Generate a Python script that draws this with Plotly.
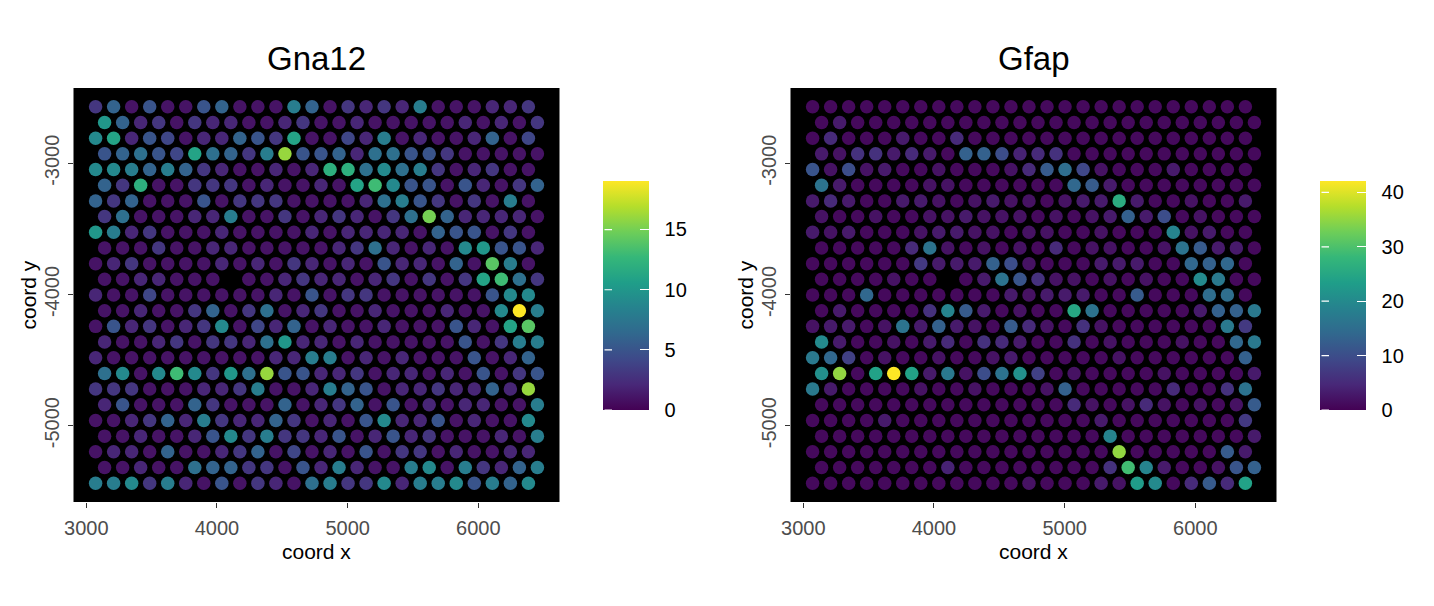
import plotly.graph_objects as go

# page body has an 8px default margin; figure is sized/positioned to compensate
OFF = 8
W, H = 1434 - 2 * OFF, 606 - 2 * OFF

# spot grid (hexagonal array): origin and pitch in coordinate units
x_origin = 3071
x_pitch = 138
y_origin = -2570
y_pitch = 119.5

# expression values, one list per array row (top row first); None = no spot
gna12_rows = [
    [3,6,1,5,1,1,5,6,1,1,1,8,6,1,3,2,3,2,8,1,1,1,2,2,3],
    [10,6,2,3,1,3,2,2,1,1,2,3,1,1,2,1,1,1,1,1,2,1,2,1,3],
    [9,11,2,5,4,1,2,2,6,5,3,11,1,1,4,2,8,1,2,1,1,2,6,1,4],
    [5,6,7,5,4,11,7,6,3,8,16,5,5,6,2,7,7,5,5,3,1,1,1,1,1],
    [9,9,8,6,8,6,3,2,1,1,2,1,2,12,12,7,9,7,8,3,1,2,3,1,1],
    [6,3,12,1,1,3,3,3,1,2,1,1,2,1,11,13,9,5,5,1,5,2,1,3,6],
    [6,3,6,1,1,1,5,1,3,3,3,1,1,1,1,2,7,8,5,3,1,3,1,8,1],
    [3,7,1,1,1,2,2,8,1,1,3,1,2,3,2,1,3,7,15,6,2,2,2,2,1],
    [10,8,2,3,1,1,1,2,1,1,1,1,2,1,2,2,2,2,1,6,5,5,1,3,1],
    [1,1,1,3,1,1,2,2,1,1,1,1,1,2,3,7,2,1,2,1,9,10,5,5,2],
    [1,2,3,1,1,1,1,2,1,2,1,3,2,1,2,1,5,2,2,1,6,1,14,8,1],
    [1,1,2,2,1,1,1,None,1,1,2,3,2,2,1,2,3,1,3,1,3,11,13,7,3],
    [2,1,1,4,1,1,1,1,1,1,2,1,5,1,3,3,1,1,1,1,1,1,5,9,9],
    [1,1,2,1,1,3,6,1,3,7,1,2,3,1,1,2,1,1,1,2,1,1,9,19,8],
    [1,5,2,3,1,2,3,9,1,4,2,6,1,2,1,1,2,1,1,1,5,2,1,11,14],
    [2,1,1,2,3,1,3,3,2,7,10,2,2,1,2,1,1,1,1,1,5,1,3,8,8],
    [2,1,1,1,1,1,1,1,1,1,2,2,8,8,1,2,1,2,1,1,1,5,1,2,6],
    [7,9,1,9,13,9,3,10,7,16,5,5,2,2,3,1,2,2,1,2,1,5,1,3,5],
    [3,3,3,1,1,1,2,2,3,8,1,1,2,8,6,5,1,2,2,3,2,2,6,2,16],
    [2,5,1,1,1,6,3,1,1,1,6,1,2,3,6,1,5,1,2,1,2,2,1,1,8],
    [1,1,2,3,6,2,8,3,2,2,6,3,1,2,1,5,9,2,2,5,1,2,1,1,9],
    [1,1,2,1,1,2,5,9,3,8,3,3,2,5,1,2,5,2,3,1,1,1,2,1,8],
    [1,2,2,1,6,1,1,2,3,6,1,4,1,2,1,5,1,3,3,1,2,1,1,2,2],
    [1,1,2,1,1,7,6,6,3,3,1,5,2,8,2,1,1,8,9,1,8,3,2,6,8],
    [8,8,9,3,8,2,1,5,1,3,2,1,7,8,3,3,9,2,8,8,9,5,8,6,9],
]

gfap_rows = [
    [1,1,1,1,1,1,1,1,1,1,1,1,1,1,1,1,1,1,1,1,1,1,1,1,1],
    [1,3,1,1,1,1,1,1,1,1,1,1,1,1,1,1,1,1,1,1,1,1,1,1,1],
    [1,5,1,1,1,3,1,1,5,1,1,1,1,1,1,1,1,1,1,1,1,1,1,1,1],
    [3,2,6,6,3,5,3,1,13,13,10,4,5,6,1,1,1,1,1,1,1,1,1,1,1],
    [11,2,10,2,3,1,1,2,1,1,1,2,5,12,15,9,2,1,1,1,3,1,1,1,1],
    [16,3,1,1,1,1,2,2,1,1,1,1,1,1,14,12,3,1,1,1,1,1,1,1,1],
    [3,5,3,1,1,3,3,2,1,2,3,2,2,1,2,3,3,26,3,1,1,2,1,1,3],
    [2,1,1,2,1,1,2,2,3,2,2,2,1,2,1,2,3,13,3,10,1,2,1,1,1],
    [3,2,3,1,1,1,2,3,3,2,2,1,2,2,1,1,2,1,1,1,19,2,3,1,1],
    [1,1,1,1,1,5,16,2,1,2,1,2,1,5,1,2,2,1,1,2,16,12,3,3,1],
    [1,1,1,1,1,1,7,3,3,3,13,10,2,1,1,1,3,3,3,1,1,14,13,14,1],
    [1,1,1,1,2,1,1,None,1,3,16,11,6,2,2,1,2,1,2,1,1,20,17,1,1],
    [1,1,1,14,1,1,1,1,1,1,1,3,2,3,3,3,1,1,12,1,1,1,15,15,1],
    [1,3,1,1,1,1,6,19,12,3,1,2,1,1,25,16,1,1,1,1,1,3,13,13,17],
    [2,3,3,1,2,16,3,13,3,2,1,12,5,2,1,6,2,1,1,1,1,1,1,17,7],
    [20,3,1,1,2,1,3,5,1,6,5,3,1,1,6,1,2,1,1,1,2,1,1,14,17],
    [17,14,8,1,2,1,1,2,1,1,2,3,1,1,1,1,1,2,1,1,1,1,1,1,13],
    [21,35,1,24,42,24,3,17,2,10,16,21,8,1,2,1,1,1,1,2,1,1,1,1,3],
    [17,3,1,1,1,1,2,1,1,2,1,1,1,2,13,1,1,1,1,1,5,1,1,6,16],
    [1,1,1,1,1,1,1,1,1,1,1,1,1,1,5,2,1,2,5,2,1,2,1,2,12],
    [1,1,1,1,3,1,1,1,1,1,1,1,1,1,1,1,3,1,1,1,1,1,1,1,7],
    [1,1,1,1,1,1,1,1,1,1,1,1,1,1,1,1,19,1,1,1,1,1,1,1,3],
    [1,1,1,1,1,1,1,1,1,1,1,1,1,1,1,1,1,35,1,1,1,1,1,12,3],
    [1,1,1,1,1,1,1,4,1,1,1,1,1,1,1,1,6,29,19,3,1,1,2,11,13],
    [1,1,1,1,1,1,1,1,1,1,1,1,2,1,1,1,3,2,23,20,1,5,12,5,24],
]

gene_names = ["Gna12", "Gfap"]
x_ticks = [3000, 4000, 5000, 6000]
y_ticks = [-3000, -4000, -5000]
cbar_ticks = [[0, 5, 10, 15], [0, 10, 20, 30, 40]]


def spots(rows):
    xs, ys, vs = [], [], []
    for r, row in enumerate(rows):
        for c, v in enumerate(row):
            if v is None:
                continue
            xs.append(x_origin + c * x_pitch + (x_pitch / 2 if r % 2 else 0))
            ys.append(y_origin - r * y_pitch)
            vs.append(v)
    return xs, ys, vs


def px(v):  # reference page pixel -> figure pixel
    return v - OFF


FONT = "Liberation Sans, Arial, Helvetica, sans-serif"
NBSP = "\u00a0"
panels_px = [(73.5, 559.5), (790.5, 1276.5)]
top_px, bot_px = 88, 502
cbar_left_px = [603, 1320]
cbar_w = 46
cbar_top, cbar_bot = 181.5, 410
cb_tick_len = 9

fig = go.Figure()
layout = dict(
    width=W, height=H,
    margin=dict(l=0, r=0, t=0, b=0),
    paper_bgcolor="white", plot_bgcolor="black",
    font=dict(family=FONT, size=20, color="black"),
    showlegend=False,
    annotations=[],
)

for i, rows in enumerate([gna12_rows, gfap_rows]):
    xs, ys, vs = spots(rows)
    xmin, xmax = min(xs), max(xs)
    ymin, ymax = min(ys), max(ys)
    xpad = 0.05 * (xmax - xmin)
    ypad = 0.05 * (ymax - ymin)
    vmax = max(vs)
    sfx = "" if i == 0 else "2"
    fig.add_trace(go.Scatter(
        x=xs, y=ys, mode="markers",
        xaxis="x" + sfx, yaxis="y" + sfx,
        marker=dict(
            size=13.5, color=vs, colorscale="Viridis", cmin=0, cmax=vmax,
            line=dict(width=0),
            colorbar=dict(
                x=px(cbar_left_px[i]) / W, xanchor="left", xref="paper",
                y=1 - px((cbar_top + cbar_bot) / 2) / H, yanchor="middle",
                len=cbar_bot - cbar_top, lenmode="pixels", thickness=cbar_w,
                outlinewidth=0, ticks="inside", ticklen=cb_tick_len,
                tickcolor="white", tickwidth=1.2,
                tickvals=cbar_ticks[i],
                ticktext=[NBSP * 2 + str(t) for t in cbar_ticks[i]],
                tickfont=dict(family=FONT, size=20, color="black"),
                ypad=0, xpad=0,
            ),
        ),
        hoverinfo="skip",
    ))
    # white inner tick marks on the left side of the colour bar (ggplot style)
    cl = px(cbar_left_px[i])
    for t in cbar_ticks[i]:
        yy = px(cbar_bot - (cbar_bot - cbar_top) * t / vmax)
        layout["annotations"].append(dict(
            x=(cl + cb_tick_len) / W, y=1 - yy / H, xref="paper", yref="paper",
            ax=-cb_tick_len, ay=0, axref="pixel", ayref="pixel",
            text="", showarrow=True, arrowhead=0, arrowwidth=1.2,
            arrowcolor="white", standoff=0, startstandoff=0,
        ))
    x0, x1 = px(panels_px[i][0]), px(panels_px[i][1])
    axis_common = dict(
        showgrid=False, zeroline=False, showline=False,
        ticks="outside", ticklen=5, tickwidth=1.1, tickcolor="#333333",
        tickfont=dict(family=FONT, size=20, color="#4d4d4d"),
        automargin=False,
    )
    layout["xaxis" + sfx] = dict(
        axis_common, domain=[x0 / W, x1 / W],
        range=[xmin - xpad, xmax + xpad],
        tickvals=x_ticks, ticktext=[str(t) for t in x_ticks],
        ticklabelstandoff=3,
        anchor="y" + sfx,
    )
    layout["yaxis" + sfx] = dict(
        axis_common, domain=[1 - px(bot_px) / H, 1 - px(top_px) / H],
        range=[ymin - ypad, ymax + ypad],
        tickvals=y_ticks, ticktext=[str(t) for t in y_ticks],
        tickangle=-90, ticklabelstandoff=1, anchor="x" + sfx,
    )
    cx = (x0 + x1) / 2 / W
    layout["annotations"] += [
        dict(text=gene_names[i], x=cx, y=1 - px(58) / H, xref="paper", yref="paper",
             showarrow=False, xanchor="center", yanchor="middle",
             font=dict(family=FONT, size=33, color="black")),
        dict(text="coord x", x=cx, y=1 - px(551) / H, xref="paper", yref="paper",
             showarrow=False, xanchor="center", yanchor="middle",
             font=dict(family=FONT, size=21, color="black")),
        dict(text="coord y", x=(px(panels_px[i][0]) - 46) / W,
             y=1 - px((top_px + bot_px) / 2) / H,
             xref="paper", yref="paper", textangle=-90,
             showarrow=False, xanchor="center", yanchor="middle",
             font=dict(family=FONT, size=21, color="black")),
    ]

fig.update_layout(**layout)
fig.write_html("out.html")
